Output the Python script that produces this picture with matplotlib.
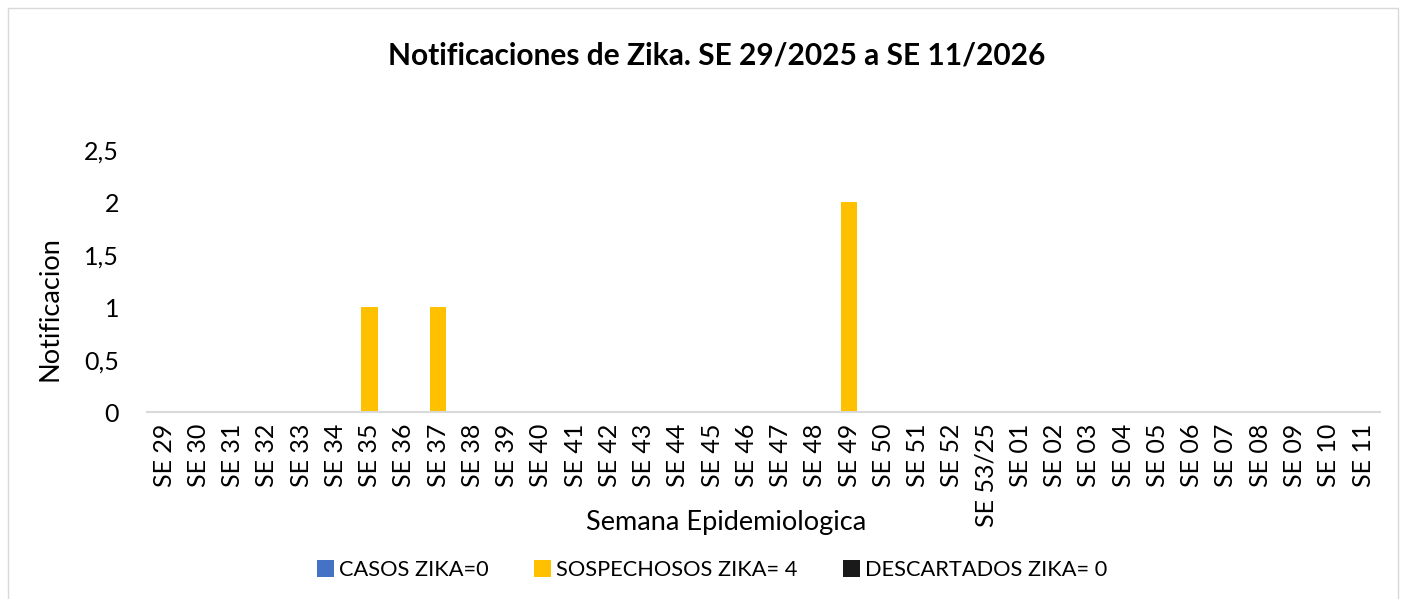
import numpy as np
import matplotlib.pyplot as plt
from matplotlib.patches import Rectangle

plt.rcParams['font.family'] = ['Lato', 'DejaVu Sans']

# Datos
semanas = ['SE 29', 'SE 30', 'SE 31', 'SE 32', 'SE 33', 'SE 34', 'SE 35', 'SE 36',
           'SE 37', 'SE 38', 'SE 39', 'SE 40', 'SE 41', 'SE 42', 'SE 43', 'SE 44',
           'SE 45', 'SE 46', 'SE 47', 'SE 48', 'SE 49', 'SE 50', 'SE 51', 'SE 52',
           'SE 53/25', 'SE 01', 'SE 02', 'SE 03', 'SE 04', 'SE 05', 'SE 06', 'SE 07',
           'SE 08', 'SE 09', 'SE 10', 'SE 11']
casos = [0] * 36
sospechosos = [0, 0, 0, 0, 0, 0, 1, 0, 1, 0, 0, 0, 0, 0, 0, 0, 0, 0, 0, 0, 2, 0,
               0, 0, 0, 0, 0, 0, 0, 0, 0, 0, 0, 0, 0, 0]
descartados = [0] * 36
etiquetas = ['CASOS ZIKA=0', 'SOSPECHOSOS ZIKA= 4', 'DESCARTADOS ZIKA= 0']
y_ticks = [0, 0.5, 1, 1.5, 2, 2.5]
y_labels = ['0', '0,5', '1', '1,5', '2', '2,5']

fig = plt.figure(figsize=(14.04, 5.99), dpi=100)
ax = fig.add_axes([0.1047, 0.312, 0.8783, 0.4375])

x = np.arange(len(semanas))
w = 0.48
ax.bar(x, casos, w, color='#4472C4', label=etiquetas[0])
ax.bar(x, sospechosos, w, color='#FFC000', label=etiquetas[1])
ax.bar(x, descartados, w, color='#1A1A1A', label=etiquetas[2])

ax.set_xlim(-0.5, len(semanas) - 0.5)
ax.set_ylim(0, 2.5)
ax.set_yticks(y_ticks)
ax.set_yticklabels(y_labels, fontsize=18)
ax.set_xticks(x)
ax.set_xticklabels(semanas, rotation=90, fontsize=18)
ax.tick_params(axis='x', length=0, pad=8)
ax.tick_params(axis='y', length=0, pad=20)

for s in ['top', 'right', 'left']:
    ax.spines[s].set_visible(False)
ax.spines['bottom'].set_color('#D9D9D9')
ax.spines['bottom'].set_linewidth(1.5)
ax.spines['bottom'].set_zorder(3)

ax.set_ylabel('Notificacion', fontsize=19.5)
ax.yaxis.set_label_coords(-0.079, 0.397)
ax.set_xlabel('Semana Epidemiologica', fontsize=19.5)
ax.xaxis.set_label_coords(0.47, -0.42)
ax.xaxis.label.set_va('center')
ax.yaxis.label.set_va('center')

fig.suptitle('Notificaciones de Zika. SE 29/2025 a SE 11/2026', fontsize=21.5,
             fontweight='bold', y=0.908, x=0.5103, va='center')

fig.legend(loc='center', bbox_to_anchor=(0.507, 0.048), ncol=3, frameon=False,
           fontsize=15.7, handlelength=0.8, handleheight=0.8, handletextpad=0.2,
           columnspacing=2.1)

fig.patches.append(Rectangle((0.006, -0.01), 0.99, 0.997, transform=fig.transFigure,
                             fill=False, edgecolor='#D9D9D9', linewidth=1))

fig.savefig('out.png', dpi=100)
